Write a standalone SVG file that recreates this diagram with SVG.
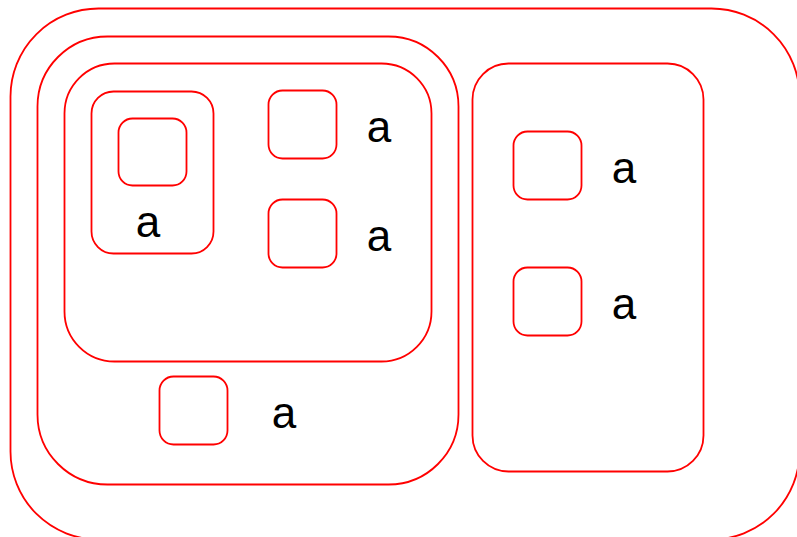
<svg xmlns="http://www.w3.org/2000/svg" width="797" height="537" viewBox="0 0 797 537">
  <style>
    .box { fill: none; stroke: #ff0000; stroke-width: 1.8; }
    .lbl { font-family: "Liberation Sans", Arial, sans-serif; font-size: 44px; fill: #000000; text-anchor: middle; }
  </style>
  <rect width="797" height="537" fill="#ffffff"/>

  <!-- outermost container -->
  <g id="outer">
    <rect class="box" x="10.5" y="8.5" width="789" height="531" rx="88" ry="88"/>
  </g>

  <!-- left container -->
  <g id="left">
    <rect class="box" x="37.5" y="36.5" width="421" height="448" rx="70" ry="70"/>
  </g>

  <!-- upper inner container -->
  <g id="upper">
    <rect class="box" x="64.5" y="63.5" width="367" height="298" rx="50" ry="50"/>
  </g>

  <!-- labelled group holding a small box -->
  <g id="group-a">
    <rect class="box" x="91.5" y="91.5" width="122" height="162" rx="22" ry="22"/>
    <text class="lbl" x="148" y="236.5">a</text>
  </g>
  <g id="inner-box">
    <rect class="box" x="118.5" y="118.5" width="68" height="67" rx="14" ry="14"/>
  </g>

  <!-- small boxes with labels -->
  <g id="node-1">
    <rect class="box" x="268.5" y="90.5" width="68" height="68" rx="14" ry="14"/>
    <text class="lbl" x="379" y="141.5">a</text>
  </g>
  <g id="node-2">
    <rect class="box" x="268.5" y="199.5" width="68" height="68" rx="14" ry="14"/>
    <text class="lbl" x="379" y="250.5">a</text>
  </g>
  <g id="node-3">
    <rect class="box" x="159.5" y="376.5" width="68" height="68" rx="14" ry="14"/>
    <text class="lbl" x="284" y="427.5">a</text>
  </g>

  <!-- right container -->
  <g id="right">
    <rect class="box" x="472.5" y="63.5" width="231" height="408" rx="36" ry="36"/>
  </g>
  <g id="node-4">
    <rect class="box" x="513.5" y="131.5" width="68" height="68" rx="14" ry="14"/>
    <text class="lbl" x="624" y="182.5">a</text>
  </g>
  <g id="node-5">
    <rect class="box" x="513.5" y="267.5" width="68" height="68" rx="14" ry="14"/>
    <text class="lbl" x="624" y="318.5">a</text>
  </g>

  <g id="connectors"></g>
</svg>
